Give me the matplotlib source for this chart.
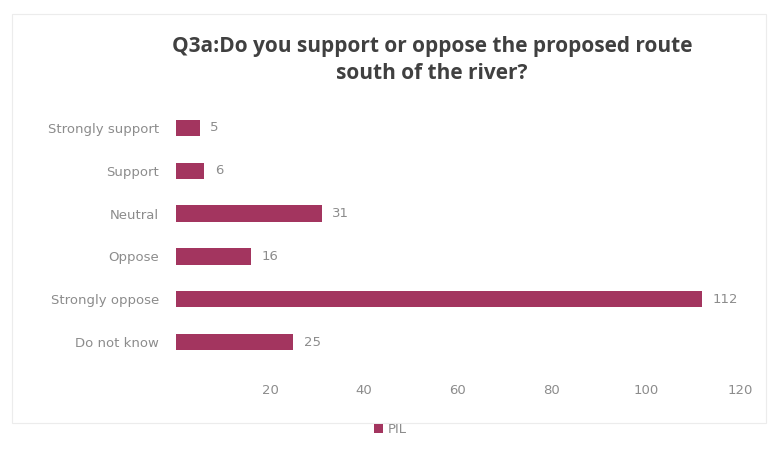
import matplotlib.pyplot as plt
from matplotlib.patches import Rectangle

categories = ['Strongly support', 'Support', 'Neutral', 'Oppose', 'Strongly oppose', 'Do not know']
counts = [5, 6, 31, 16, 112, 25]
xticks = [20, 40, 60, 80, 100, 120]
series_name = 'PIL'

bar_color = '#a3355f'
text_color = '#8c8c8c'

fig = plt.figure(figsize=(7.73, 4.55), dpi=100)
ax = fig.add_axes([0.2277, 0.201, 0.7293, 0.565])

# faint chart-area border
fig.add_artist(Rectangle((0.016, 0.07), 0.975, 0.9, transform=fig.transFigure,
                         fill=False, edgecolor='#ececec', linewidth=0.8))

pos = list(range(len(categories)))
ax.barh(pos, counts, height=0.38, color=bar_color, label=series_name)
for p, v in zip(pos, counts):
    ax.text(v + 2.3, p, str(v), va='center', ha='left', fontsize=9.5,
            color=text_color, family='DejaVu Sans')

ax.set_xlim(0, 120)
ax.set_ylim(len(categories) - 0.5, -0.5)
ax.set_yticks(pos)
ax.set_yticklabels(categories, fontsize=9.5, color=text_color, family='DejaVu Sans')
ax.set_xticks(xticks)
ax.set_xticklabels([str(t) for t in xticks], fontsize=9.5, color=text_color, family='DejaVu Sans')
ax.tick_params(axis='both', length=0)
ax.tick_params(axis='y', pad=12)
ax.tick_params(axis='x', pad=15)
for s in ax.spines.values():
    s.set_visible(False)

fig.text(0.559, 0.868, 'Q3a:Do you support or oppose the proposed route\nsouth of the river?',
         ha='center', va='center', fontsize=15, fontweight='bold', color='#404040',
         family='Open Sans', linespacing=1.35)

fig.legend(loc='center', bbox_to_anchor=(0.505, 0.055), frameon=False, fontsize=9.5,
           handlelength=0.7, handleheight=0.7, handletextpad=0.4,
           labelcolor=text_color)

fig.savefig('out.png', dpi=100)
